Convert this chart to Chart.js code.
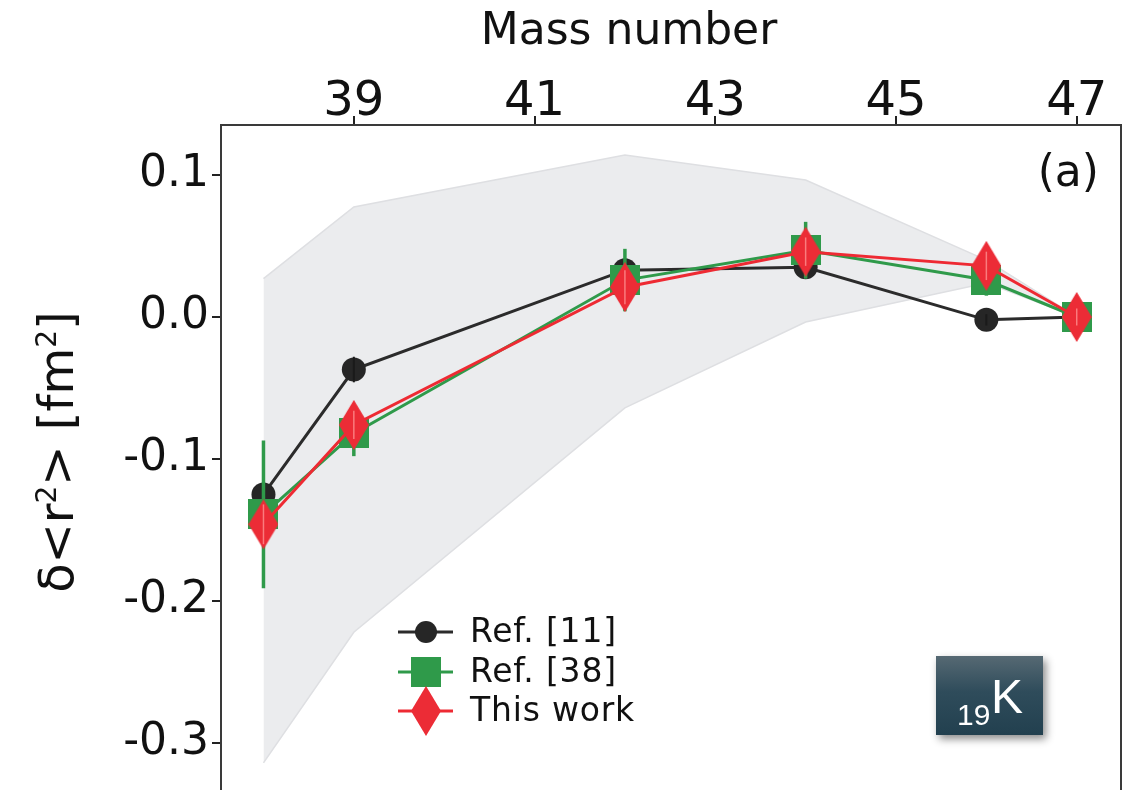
<!DOCTYPE html>
<html><head><meta charset="utf-8">
<script src="https://cdn.jsdelivr.net/npm/chart.js@4.4.1/dist/chart.umd.min.js"></script>
<style>html,body{margin:0;padding:0;background:#fff;overflow:hidden}#wrap{width:1130px;height:790px;position:relative}</style>
</head><body><div id="wrap"><canvas id="c" width="1130" height="790"></canvas></div>
<script>
// ---- data ----
const massNumbers = [38, 39, 42, 44, 46, 47];
const ref11 = [-0.125, -0.037, 0.033, 0.035, -0.002, 0.0];
const ref11Err = [0.006, 0.009, 0.006, 0.006, 0.004, 0.002];
const ref38 = [-0.139, -0.082, 0.026, 0.047, 0.026, 0.0];
const ref38Err = [0.052, 0.016, 0.022, 0.020, 0.011, 0.003];
const thisWork = [-0.146, -0.076, 0.021, 0.046, 0.036, 0.0];
const thisWorkErr = [0.014, 0.010, 0.012, 0.010, 0.010, 0.006];
const bandUpper = [0.027, 0.0775, 0.114, 0.0965, 0.040, 0.0];
const bandLower = [-0.314, -0.222, -0.064, -0.0035, 0.024, 0.0];
const xTicks = [39, 41, 43, 45, 47];
const yTicks = [0.1, 0.0, -0.1, -0.2, -0.3];
const seriesLabels = ['Ref. [11]', 'Ref. [38]', 'This work'];
const xTitle = 'Mass number';
const panelLabel = '(a)';
const elementZ = '19';
const elementSym = 'K';

// ---- styles ----
const BLACK = '#262626', GREEN = '#2f9a4a', RED = '#ec2c36';
function makeDiamond(w, h, color) {
  const c = document.createElement('canvas'); c.width = w; c.height = h;
  const g = c.getContext('2d'); g.fillStyle = color; g.beginPath();
  g.moveTo(w/2, 0); g.lineTo(w, h/2); g.lineTo(w/2, h); g.lineTo(0, h/2); g.closePath(); g.fill();
  return c;
}
function makeSquare(s, color) {
  const c = document.createElement('canvas'); c.width = s; c.height = s;
  const g = c.getContext('2d'); g.fillStyle = color; g.fillRect(0, 0, s, s); return c;
}
const diamondImg = makeDiamond(30, 50, RED);
const squareImg = makeSquare(30, GREEN);

const pts = arr => massNumbers.map((m, i) => ({x: m, y: arr[i]}));

const FONT = '"DejaVu Sans", Verdana, sans-serif';

const errPlugin = {
  id: 'errbars',
  beforeDatasetDraw(chart, args) { drawErr(chart, args.index, false); },
  afterDatasetDraw(chart, args) { drawErr(chart, args.index, true); }
};
function drawErr(chart, idx, after) {
  const ds = chart.data.datasets[idx];
  if (!ds.errors || !!ds.errAfter !== after) return;
  const xs = chart.scales.x, ys = chart.scales.y, ctx = chart.ctx;
  ctx.save(); ctx.strokeStyle = ds.errColor; ctx.lineWidth = ds.errWidth;
  ds.data.forEach((p, i) => {
    const px = xs.getPixelForValue(p.x);
    ctx.beginPath();
    ctx.moveTo(px, ys.getPixelForValue(p.y + ds.errors[i]));
    ctx.lineTo(px, ys.getPixelForValue(p.y - ds.errors[i]));
    ctx.stroke();
  });
  ctx.restore();
}

const decoPlugin = {
  id: 'deco',
  afterDraw(chart) {
    const ctx = chart.ctx, a = chart.chartArea;
    ctx.save();
    // frame
    ctx.strokeStyle = '#3a3a3a'; ctx.lineWidth = 2;
    ctx.beginPath();
    ctx.moveTo(a.left, chart.height + 5); ctx.lineTo(a.left, a.top); ctx.lineTo(a.right, a.top); ctx.lineTo(a.right, chart.height + 5);
    ctx.stroke();
    // x title
    ctx.fillStyle = '#111'; ctx.textBaseline = 'middle'; ctx.textAlign = 'center';
    ctx.font = '44px ' + FONT;
    ctx.fillText(xTitle, 629, 33);
    // y title with superscripts
    const parts = [['δ<r', 48, 0], ['2', 28, -17], ['> [fm', 48, 0], ['2', 28, -17], [']', 48, 0]];
    let total = 0;
    parts.forEach(p => { ctx.font = p[1] + 'px ' + FONT; total += ctx.measureText(p[0]).width; });
    ctx.save(); ctx.translate(56, 452); ctx.rotate(-Math.PI/2);
    ctx.textAlign = 'left'; ctx.textBaseline = 'alphabetic';
    let cx = -total/2;
    parts.forEach(p => { ctx.font = p[1] + 'px ' + FONT; ctx.fillText(p[0], cx, 17 + p[2]); cx += ctx.measureText(p[0]).width; });
    ctx.restore();
    // panel label
    ctx.font = '44px ' + FONT; ctx.textAlign = 'right'; ctx.textBaseline = 'middle';
    ctx.fillText(panelLabel, 1099, 175);
    // legend
    const rows = [632, 672, 711];
    const lx0 = 398, lx1 = 453, mx = 426;
    chart.data.datasets.filter(d => d.legendRow !== undefined).forEach(d => {
      const y = rows[d.legendRow];
      ctx.strokeStyle = d.borderColor; ctx.lineWidth = 3;
      ctx.beginPath(); ctx.moveTo(lx0, y); ctx.lineTo(lx1, y); ctx.stroke();
      if (d.pointStyle === 'circle') {
        ctx.fillStyle = d.pointBackgroundColor; ctx.beginPath(); ctx.arc(mx, y, 11, 0, Math.PI*2); ctx.fill();
      } else {
        ctx.drawImage(d.pointStyle, mx - d.pointStyle.width/2, y - d.pointStyle.height/2);
      }
      ctx.fillStyle = '#111'; ctx.textAlign = 'left'; ctx.textBaseline = 'middle';
      ctx.font = '33px ' + FONT;
      if ('letterSpacing' in ctx) ctx.letterSpacing = '0.8px';
      ctx.fillText(d.label, 470, y + 1);
      if ('letterSpacing' in ctx) ctx.letterSpacing = '0px';
    });
    // element badge
    ctx.save();
    ctx.shadowColor = 'rgba(0,0,0,0.45)'; ctx.shadowBlur = 8; ctx.shadowOffsetX = 3; ctx.shadowOffsetY = 4;
    const grd = ctx.createLinearGradient(0, 656, 0, 735);
    grd.addColorStop(0, '#566973'); grd.addColorStop(0.45, '#2f4c5b'); grd.addColorStop(1, '#22404f');
    ctx.fillStyle = grd; ctx.fillRect(936, 656, 107, 79);
    ctx.restore();
    ctx.fillStyle = '#fff'; ctx.textBaseline = 'alphabetic';
    ctx.font = '30px "Liberation Sans", Arial, sans-serif'; ctx.textAlign = 'left';
    ctx.fillText(elementZ, 957, 725);
    ctx.font = '48px "Liberation Sans", Arial, sans-serif';
    ctx.fillText(elementSym, 991, 713);
    ctx.restore();
  }
};

function zeroPad(s) { s.paddingTop = 0; s.paddingBottom = 0; s.paddingLeft = 0; s.paddingRight = 0; }

const chart = new Chart(document.getElementById('c'), {
  type: 'line',
  data: {
    datasets: [
      { label: 'band-upper', data: pts(bandUpper), borderColor: '#dedfe2', borderWidth: 1.5, pointRadius: 0, fill: false, order: 10, tension: 0 },
      { label: 'band-lower', data: pts(bandLower), borderColor: '#dedfe2', borderWidth: 1.5, pointRadius: 0, fill: '-1', backgroundColor: '#ebecee', order: 10, tension: 0 },
      { label: seriesLabels[0], data: pts(ref11), borderColor: '#2b2b2b', borderWidth: 3, pointStyle: 'circle', pointRadius: 12, pointBackgroundColor: BLACK, pointBorderWidth: 0, order: 3, errors: ref11Err, errColor: '#1a1a1a', errWidth: 2, errAfter: true, legendRow: 0 },
      { label: seriesLabels[1], data: pts(ref38), borderColor: GREEN, borderWidth: 3, pointStyle: squareImg, pointRadius: 15, pointBackgroundColor: GREEN, pointBorderWidth: 0, order: 2, errors: ref38Err, errColor: GREEN, errWidth: 3.5, errAfter: false, legendRow: 1 },
      { label: seriesLabels[2], data: pts(thisWork), borderColor: '#ee2a33', borderWidth: 3, pointStyle: diamondImg, pointRadius: 15, pointBackgroundColor: RED, pointBorderWidth: 0, order: 1, errors: thisWorkErr, errColor: 'rgba(255,150,150,0.75)', errWidth: 1.5, errAfter: true, legendRow: 2 }
    ]
  },
  options: {
    responsive: false, animation: false, devicePixelRatio: 1,
    layout: { autoPadding: false, padding: { left: 0, right: 9, top: 0, bottom: 0 } },
    plugins: { legend: { display: false }, tooltip: { enabled: false } },
    scales: {
      x: {
        type: 'linear', position: 'top', min: 37.53, max: 47.49,
        afterBuildTicks: s => { s.ticks = xTicks.map(v => ({value: v})); },
        afterFit: s => { s.height = 125; zeroPad(s); },
        ticks: { font: { family: FONT, size: 48, lineHeight: 0.75 }, color: '#111', padding: -5, callback: v => String(v), maxRotation: 0, autoSkip: false },
        grid: { drawOnChartArea: false, drawTicks: true, tickLength: 9, color: '#222', lineWidth: 2 },
        border: { display: false },
        title: { display: false }
      },
      y: {
        type: 'linear', position: 'left', min: -0.3331, max: 0.1352,
        afterBuildTicks: s => { s.ticks = yTicks.map(v => ({value: v})); },
        afterFit: s => { s.width = 221; zeroPad(s); },
        ticks: { font: { family: FONT, size: 44 }, color: '#111', padding: 3, callback: v => v.toFixed(1), autoSkip: false },
        grid: { drawOnChartArea: false, drawTicks: true, tickLength: 9, color: '#222', lineWidth: 2 },
        border: { display: false },
        title: { display: false }
      }
    }
  },
  plugins: [errPlugin, decoPlugin]
});
</script></body></html>
